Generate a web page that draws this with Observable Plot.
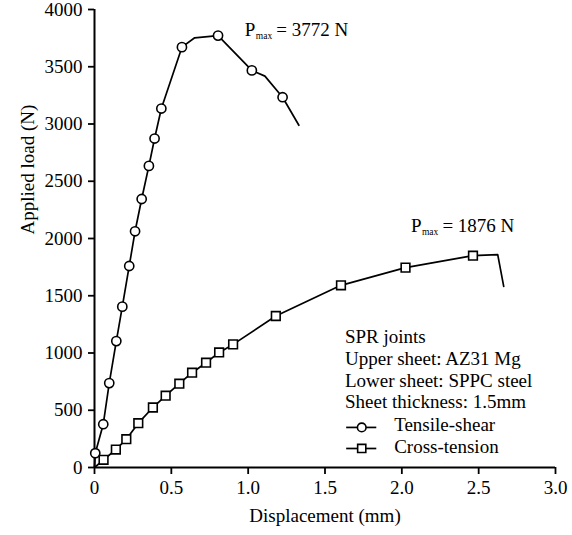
<!DOCTYPE html>
<html><head><meta charset="utf-8">
<script src="https://cdn.jsdelivr.net/npm/d3@7"></script>
<script src="https://cdn.jsdelivr.net/npm/@observablehq/plot@0.6"></script>
<style>
html,body{margin:0;padding:0;background:#fff;}
#chart svg text{font-family:'Liberation Serif','Times New Roman',serif !important;}
#chart svg g[aria-label$="tick label"]{font-size:19px;font-variant:normal;}
</style></head><body><div id="chart"></div>
<script>
// Tensile-shear curve (line points) and its circle markers
const tsX = [0, 0.005, 0.057, 0.096, 0.142, 0.181, 0.226, 0.264, 0.307, 0.354, 0.391, 0.435, 0.569, 0.652, 0.804, 1.024, 1.109, 1.224, 1.330];
const tsY = [0, 125, 378, 737, 1104, 1405, 1760, 2063, 2345, 2634, 2873, 3135, 3671, 3753, 3772, 3468, 3418, 3234, 2989];
const tsMarkX = [0.005, 0.057, 0.096, 0.142, 0.181, 0.226, 0.264, 0.307, 0.354, 0.391, 0.435, 0.569, 0.804, 1.024, 1.224];
const tsMarkY = [125, 378, 737, 1104, 1405, 1760, 2063, 2345, 2634, 2873, 3135, 3671, 3772, 3468, 3234];

// Cross-tension curve (line points) and its square markers
const ctX = [0, 0.059, 0.139, 0.207, 0.285, 0.380, 0.463, 0.552, 0.635, 0.726, 0.811, 0.902, 1.180, 1.604, 2.024, 2.463, 2.624, 2.663];
const ctY = [0, 67, 157, 247, 387, 524, 627, 732, 828, 915, 1005, 1075, 1323, 1591, 1746, 1850, 1859, 1582];
const ctMarkX = [0.059, 0.139, 0.207, 0.285, 0.380, 0.463, 0.552, 0.635, 0.726, 0.811, 0.902, 1.180, 1.604, 2.024, 2.463];
const ctMarkY = [67, 157, 247, 387, 524, 627, 732, 828, 915, 1005, 1075, 1323, 1591, 1746, 1850];

// Axis ticks
const xTicks = [0, 0.5, 1.0, 1.5, 2.0, 2.5, 3.0];
const xTickLabels = ["0", "0.5", "1.0", "1.5", "2.0", "2.5", "3.0"];
const yTicks = [0, 500, 1000, 1500, 2000, 2500, 3000, 3500, 4000];

// Peak annotations
const pmaxX = [0.978, 2.059];
const pmaxY = [3767, 2057];
const pmaxLabels = ["= 3772 N", "= 1876 N"];

// Legend / notes
const infoLines = ["SPR joints", "Upper sheet: AZ31 Mg", "Lower sheet: SPPC steel", "Sheet thickness: 1.5mm"];
const seriesNames = ["Tensile-shear", "Cross-tension"];

const ts = tsX.map((x, i) => ({x, y: tsY[i]}));
const tsM = tsMarkX.map((x, i) => ({x, y: tsMarkY[i]}));
const ct = ctX.map((x, i) => ({x, y: ctY[i]}));
const ctM = ctMarkX.map((x, i) => ({x, y: ctMarkY[i]}));
const pmax = pmaxX.map((x, i) => ({x, y: pmaxY[i], label: pmaxLabels[i]}));

const FONT = "'Liberation Serif', 'Times New Roman', serif";
const LW = 1.7;

const chart = Plot.plot({
  width: 572, height: 535,
  marginLeft: 94, marginRight: 17, marginTop: 9, marginBottom: 68,
  style: {fontFamily: FONT, fontSize: "19px", color: "#000", background: "#fff", overflow: "visible"},
  x: {domain: [0, 3]},
  y: {domain: [0, 4000]},
  marks: [
    Plot.axisX({ticks: xTicks, tickSize: 7, tickPadding: 6, strokeWidth: 1.8, label: null,
      tickFormat: d => xTickLabels[xTicks.indexOf(d)], fontSize: 19, fontFamily: FONT}),
    Plot.axisY({ticks: yTicks, tickSize: 6, tickPadding: 6, strokeWidth: 1.8, label: null,
      tickFormat: d => String(d), fontSize: 19, fontFamily: FONT}),
    Plot.ruleX([0], {y1: 0, y2: 4000, strokeWidth: 2}),
    Plot.ruleY([0], {x1: 0, x2: 3, strokeWidth: 2}),
    Plot.text(["Displacement (mm)"], {frameAnchor: "bottom", dy: 54, fontSize: 19, fontFamily: FONT}),
    Plot.text(["Applied load (N)"], {frameAnchor: "left", dx: -67, dy: -4, rotate: -90, fontSize: 19, fontFamily: FONT}),

    Plot.line(ts, {x: "x", y: "y", stroke: "#000", strokeWidth: LW}),
    Plot.line(ct, {x: "x", y: "y", stroke: "#000", strokeWidth: LW}),
    Plot.dot(tsM, {x: "x", y: "y", r: 4.6, symbol: "circle", fill: "#fff", stroke: "#000", strokeWidth: 1.6}),
    Plot.dot(ctM, {x: "x", y: "y", r: 4.9, symbol: "square", fill: "#fff", stroke: "#000", strokeWidth: 1.6}),

    Plot.text(pmax, {x: "x", y: "y", text: () => "P", textAnchor: "start", lineAnchor: "bottom", fontSize: 19, fontFamily: FONT}),
    Plot.text(pmax, {x: "x", y: "y", text: () => "max", dx: 11, dy: 3, textAnchor: "start", lineAnchor: "bottom", fontSize: 9.5, fontFamily: FONT}),
    Plot.text(pmax, {x: "x", y: "y", text: "label", dx: 31.5, textAnchor: "start", lineAnchor: "bottom", fontSize: 19, fontFamily: FONT}),

    Plot.text([infoLines.join("\n")], {x: () => 1.63, y: () => 1219, textAnchor: "start", lineAnchor: "top", lineHeight: 1.14, fontSize: 19, fontFamily: FONT}),
    Plot.ruleY([350], {x1: 1.641, x2: 1.837, strokeWidth: LW}),
    Plot.ruleY([166], {x1: 1.641, x2: 1.837, strokeWidth: LW}),
    Plot.dot([0], {x: () => 1.739, y: () => 350, r: 4.3, symbol: "circle", fill: "#fff", stroke: "#000", strokeWidth: 1.6}),
    Plot.dot([0], {x: () => 1.739, y: () => 166, r: 4.6, symbol: "square", fill: "#fff", stroke: "#000", strokeWidth: 1.6}),
    Plot.text([seriesNames[0]], {x: () => 1.95, y: () => 320, textAnchor: "start", lineAnchor: "bottom", fontSize: 19, fontFamily: FONT}),
    Plot.text([seriesNames[1]], {x: () => 1.95, y: () => 128, textAnchor: "start", lineAnchor: "bottom", fontSize: 19, fontFamily: FONT})
  ]
});
document.getElementById("chart").appendChild(chart);
</script>
</body></html>
